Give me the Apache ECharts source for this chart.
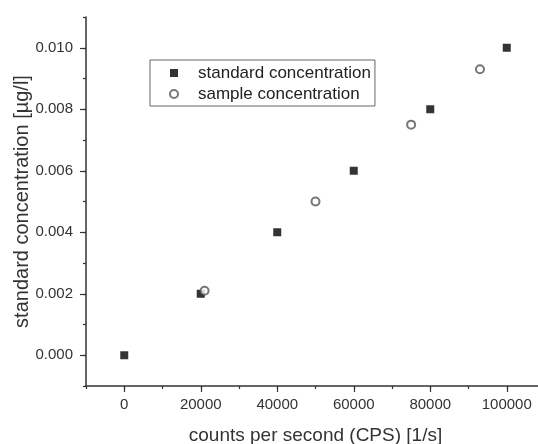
<!DOCTYPE html>
<html>
<head>
<meta charset="utf-8">
<script src="https://cdn.jsdelivr.net/npm/echarts@6/dist/echarts.min.js"></script>
<style>
html,body{margin:0;padding:0;background:#fff;}
#chart{width:538px;height:444px;}
</style>
</head>
<body>
<div id="chart"></div>
<script>
const xTickValues = [0, 20000, 40000, 60000, 80000, 100000];
const yTickValues = [0, 0.002, 0.004, 0.006, 0.008, 0.010];
const standardCps = [0, 20000, 40000, 60000, 80000, 100000];
const standardConc = [0, 0.002, 0.004, 0.006, 0.008, 0.010];
const sampleCps = [21000, 50000, 75000, 93000];
const sampleConc = [0.0021, 0.005, 0.0075, 0.0093];
const seriesNames = ['standard concentration', 'sample concentration'];
const xTitle = 'counts per second (CPS) [1/s]';
const yTitle = 'standard concentration [\u00b5g/l]';

const FONT = '"Liberation Sans", Arial, sans-serif';
const AX = '#333';

const chart = echarts.init(document.getElementById('chart'), null, {renderer: 'canvas'});

function zip(a, b) { return a.map((v, i) => [v, b[i]]); }

const xBase = {type: 'value', min: -10000, max: 110000, interval: 10000, position: 'bottom', splitLine: {show: false}};
const yBase = {type: 'value', min: -0.001, max: 0.011, interval: 0.001, position: 'left', splitLine: {show: false}};

chart.setOption({
  animation: false,
  backgroundColor: '#fff',
  grid: {left: 86, top: 17, right: -7, bottom: 58, containLabel: false, outerBoundsMode: 'none'},
  legend: {
    left: 150, top: 60, orient: 'vertical',
    data: seriesNames,
    itemWidth: 8, itemHeight: 8, itemGap: 1,
    padding: [3, 4, 2, 19],
    borderColor: '#666', borderWidth: 1,
    textStyle: {fontFamily: FONT, fontSize: 17, color: '#222', lineHeight: 20, padding: [0, 0, 0, 15]}
  },
  xAxis: [
    Object.assign({}, xBase, {
      axisLine: {show: true, onZero: false, lineStyle: {color: AX, width: 1.5}},
      axisTick: {show: true, inside: false, length: 3, lineStyle: {color: AX, width: 1.2}},
      axisLabel: {show: false}
    }),
    Object.assign({}, xBase, {
      axisLine: {show: false, onZero: false},
      axisTick: {show: true, inside: false, length: 6, customValues: xTickValues, lineStyle: {color: AX, width: 1.2}},
      axisLabel: {show: true, customValues: xTickValues, margin: 11, fontFamily: FONT, fontSize: 15, color: '#333',
        formatter: v => String(Math.round(v))},
      name: xTitle, nameLocation: 'middle', nameGap: 40, nameMoveOverlap: false,
      nameTextStyle: {fontFamily: FONT, fontSize: 19, color: '#333'}
    })
  ],
  yAxis: [
    Object.assign({}, yBase, {
      axisLine: {show: true, onZero: false, lineStyle: {color: AX, width: 1.5}},
      axisTick: {show: true, inside: false, length: 3, lineStyle: {color: AX, width: 1.2}},
      axisLabel: {show: false}
    }),
    Object.assign({}, yBase, {
      axisLine: {show: false, onZero: false},
      axisTick: {show: true, inside: false, length: 6, customValues: yTickValues, lineStyle: {color: AX, width: 1.2}},
      axisLabel: {show: true, customValues: yTickValues, margin: 13, fontFamily: FONT, fontSize: 15, color: '#333',
        formatter: v => Number(v).toFixed(3)},
      name: yTitle, nameLocation: 'middle', nameGap: 54, nameMoveOverlap: false,
      nameTextStyle: {fontFamily: FONT, fontSize: 20, color: '#333'}
    })
  ],
  series: [
    {
      name: seriesNames[0], type: 'scatter', xAxisIndex: 0, yAxisIndex: 0,
      symbol: 'rect', symbolSize: 8,
      itemStyle: {color: '#000'},
      data: zip(standardCps, standardConc)
    },
    {
      name: seriesNames[1], type: 'scatter', xAxisIndex: 0, yAxisIndex: 0,
      symbol: 'emptyCircle', symbolSize: 8,
      itemStyle: {color: '#555', borderColor: '#555', borderWidth: 1},
      data: zip(sampleCps, sampleConc)
    }
  ]
});
</script>
</body>
</html>
